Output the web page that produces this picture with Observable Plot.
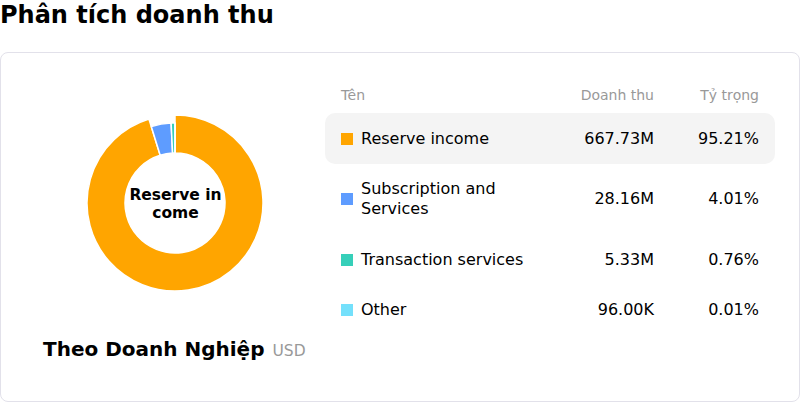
<!DOCTYPE html>
<html>
<head>
<meta charset="utf-8">
<script src="https://cdn.jsdelivr.net/npm/d3@7"></script>
<script src="https://cdn.jsdelivr.net/npm/@observablehq/plot@0.6"></script>
<style>
  html, body { margin: 0; padding: 0; }
  body { width: 800px; height: 402px; position: relative; overflow: hidden; background: #fff;
         font-family: "DejaVu Sans", sans-serif; color: #000; }
  #title { position: absolute; left: 0; top: 0; font-size: 24px; line-height: 30px; font-weight: bold; white-space: nowrap; }
  #card { position: absolute; left: 0; top: 52px; width: 798px; height: 348px; border: 1px solid #e2e1ea; border-radius: 8px; }
  #chart { position: absolute; left: 25px; top: 53px; width: 300px; height: 300px; }
  #group { position: absolute; left: 43px; top: 337px; white-space: nowrap; line-height: 24px; }
  #group .main { font-size: 20px; font-weight: bold; }
  #group .unit { font-size: 15.5px; color: #999; margin-left: 8px; }
  #table { position: absolute; left: 325px; top: 85px; width: 450px; }
  .row { display: grid; grid-template-columns: 213px 100px 105px; padding: 0 16px; align-items: center; }
  .head { font-size: 14px; line-height: 20px; color: #999; margin-bottom: 8px; }
  .body { font-size: 16px; line-height: 20px; padding-top: 15.5px; padding-bottom: 15px; border-radius: 10px; }
  .body.hl { background: #f4f4f4; }
  .num { text-align: right; }
  .name { display: flex; align-items: center; }
  .sq { width: 12px; height: 12px; flex: none; margin-right: 8px; }
  .label { max-width: 193px; }
</style>
</head>
<body>
<div id="title"></div>
<div id="card"></div>
<div id="chart"></div>
<div id="group"><span class="main"></span><span class="unit"></span></div>
<div id="table"></div>
<script>
const chartTitle = "Phân tích doanh thu";
const groupLabel = "Theo Doanh Nghiệp";
const unitLabel = "USD";
const columnLabels = ["Tên", "Doanh thu", "Tỷ trọng"];
const names = ["Reserve income", "Subscription and Services", "Transaction services", "Other"];
const revenue = [667.73e6, 28.16e6, 5.33e6, 96.00e3];
const shares = [95.21, 4.01, 0.76, 0.01];
const colors = ["#FFA500", "#5E9CFF", "#36CFB9", "#74E0FB"];
const highlighted = "Reserve income";

const rows = names.map((name, i) => ({name, revenue: revenue[i], share: shares[i]}));
const color = Plot.scale({color: {type: "ordinal", domain: names, range: colors}});

const fmtRevenue = v => v >= 1e6 ? (v / 1e6).toFixed(2) + "M" : (v / 1e3).toFixed(2) + "K";
const fmtShare = v => v.toFixed(2) + "%";

document.getElementById("title").textContent = chartTitle;
document.querySelector("#group .main").textContent = groupLabel;
document.querySelector("#group .unit").textContent = unitLabel;

// donut slices drawn as a Plot render-function mark
function donut(index, scales, values, dimensions) {
  const cx = dimensions.width / 2, cy = dimensions.height / 2;
  const arcs = d3.pie().sort(null).value(d => d.revenue)(rows);
  const g = d3.create("svg:g").attr("transform", `translate(${cx},${cy})`);
  g.selectAll("path").data(arcs).join("path")
    .attr("d", a => d3.arc().innerRadius(50).outerRadius(a.data.name === highlighted ? 88 : 80)(a))
    .attr("fill", a => color.apply(a.data.name))
    .attr("stroke", "#fff")
    .attr("stroke-width", 1.5)
    .attr("stroke-linejoin", "round");
  return g.node();
}

// center label: wrap highlighted name every 10 characters
const centerText = highlighted.match(/.{1,10}/g).join("\n");

const plot = Plot.plot({
  width: 300,
  height: 300,
  margin: 0,
  style: {background: "transparent", fontFamily: "DejaVu Sans", overflow: "visible"},
  marks: [
    donut,
    Plot.text([centerText], {
      frameAnchor: "middle", text: d => d, fontSize: 15.5, fontWeight: "bold",
      lineHeight: 1.12, fill: "#000"
    })
  ]
});
document.getElementById("chart").appendChild(plot);

// table
const table = document.getElementById("table");
const head = document.createElement("div");
head.className = "row head";
head.innerHTML = `<div>${columnLabels[0]}</div><div class="num">${columnLabels[1]}</div><div class="num">${columnLabels[2]}</div>`;
table.appendChild(head);
rows.forEach(r => {
  const row = document.createElement("div");
  row.className = "row body" + (r.name === highlighted ? " hl" : "");
  row.innerHTML = `<div class="name"><span class="sq" style="background:${color.apply(r.name)}"></span><span class="label">${r.name}</span></div>` +
    `<div class="num">${fmtRevenue(r.revenue)}</div><div class="num">${fmtShare(r.share)}</div>`;
  table.appendChild(row);
});
</script>
</body>
</html>
